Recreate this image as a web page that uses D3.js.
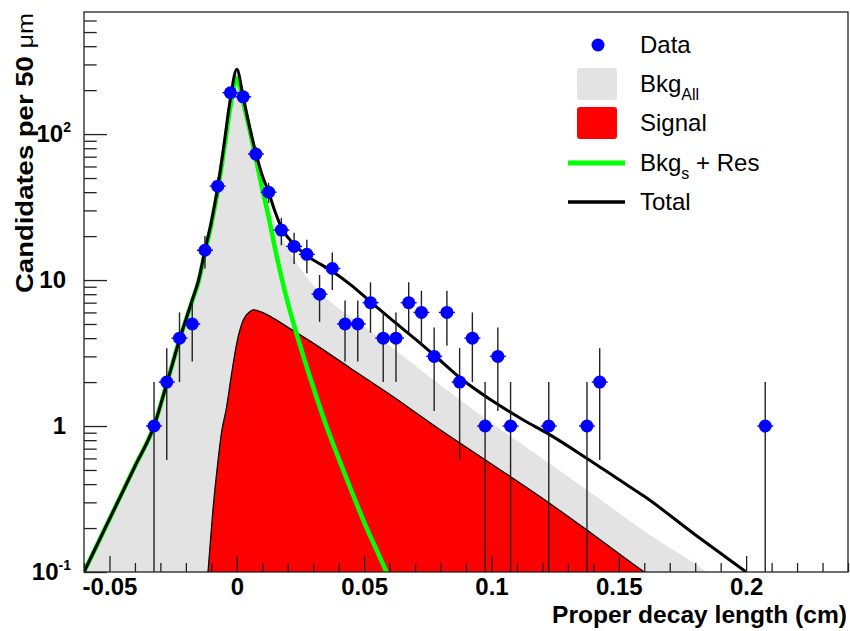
<!DOCTYPE html>
<html>
<head>
<meta charset="utf-8">
<script src="https://cdn.jsdelivr.net/npm/d3@7"></script>
<style>
  body { margin: 0; background: #fff; }
  svg { display: block; }
  text { font-family: "Liberation Sans", Arial, Helvetica, sans-serif; fill: #000; }
</style>
</head>
<body>
<svg id="chart" width="850" height="631"></svg>
<script>
// ---------------- DATA ----------------
const dataX = [-0.0325, -0.0275, -0.0225, -0.0175, -0.0125, -0.0075, -0.0025, 0.0025, 0.0075, 0.0125,
               0.0175, 0.0225, 0.0275, 0.0325, 0.0375, 0.0425, 0.0475, 0.0525, 0.0575, 0.0625,
               0.0675, 0.0725, 0.0775, 0.0825, 0.0875, 0.0925, 0.0975, 0.1025, 0.1075, 0.1225,
               0.1375, 0.1425, 0.2075];
const dataY = [1, 2, 4, 5, 16, 44, 192, 180, 73, 40,
               22, 17, 15, 8, 12, 5, 5, 7, 4, 4,
               7, 6, 3, 6, 2, 4, 1, 3, 1, 1,
               1, 2, 1];

// Fit curves: [decay length (cm), candidates]
const totalCurve = [[-0.06,0.1],[-0.05,0.23],[-0.04,0.53],[-0.0325,1.0],[-0.0275,1.95],[-0.0225,3.9],
  [-0.0175,7.3],[-0.015,10],[-0.0125,16],[-0.01,25],[-0.0075,43],[-0.005,85],[-0.0025,175],[0,278],
  [0.0025,180],[0.005,112],[0.0075,74],[0.01,52],[0.0125,40],[0.015,29.5],[0.0175,23],[0.0225,17.5],
  [0.0275,14.7],[0.0375,11.5],[0.045,9.2],[0.0525,7.1],[0.06,5.5],[0.07,3.95],[0.08,2.8],[0.0875,2.15],
  [0.1,1.5],[0.1125,1.1],[0.1225,0.88],[0.1375,0.6],[0.15,0.43],[0.16,0.33],[0.18,0.18],[0.2,0.1]];

const bkgSResCurve = [[-0.06,0.1],[-0.05,0.23],[-0.04,0.53],[-0.0325,1.0],[-0.0275,1.95],[-0.0225,3.9],
  [-0.0175,7.2],[-0.015,9.8],[-0.0125,15.5],[-0.01,24],[-0.0075,41],[-0.005,78],[-0.0025,155],[0,242],
  [0.0025,165],[0.005,108],[0.0075,68],[0.01,42],[0.0125,27],[0.015,16.5],[0.0175,10.5],[0.02,7.0],
  [0.025,3.5],[0.03,1.85],[0.035,1.02],[0.04,0.6],[0.045,0.36],[0.05,0.22],[0.055,0.14],[0.06,0.09]];

const bkgAllCurve = [[-0.06,0.1],[-0.05,0.23],[-0.04,0.53],[-0.0325,1.0],[-0.0275,1.95],[-0.0225,3.9],
  [-0.0175,7.3],[-0.015,10],[-0.0125,16],[-0.01,25],[-0.0075,43],[-0.005,85],[-0.0025,175],[0,278],
  [0.0025,180],[0.005,112],[0.0075,72],[0.01,48],[0.0125,34],[0.015,25],[0.02,16.5],[0.025,12],
  [0.03,9.2],[0.04,6.4],[0.05,4.8],[0.06,3.55],[0.08,1.9],[0.1,1.05],[0.12,0.6],[0.14,0.34],
  [0.16,0.19],[0.1846,0.1],[0.19,0.085]];

const signalCurve = [[-0.0113,0.1],[-0.0095,0.25],[-0.0075,0.55],[-0.006,0.9],[-0.004,1.35],[-0.002,2.3],
  [0,3.7],[0.0025,5.3],[0.005,6.05],[0.0065,6.25],[0.01,6.0],[0.015,5.4],[0.0196,4.8],[0.03,3.7],
  [0.0445,2.5],[0.06,1.65],[0.08,0.94],[0.1,0.55],[0.12,0.32],[0.14,0.18],[0.16,0.1],[0.165,0.087]];

const xMajorTicks = [-0.05, 0, 0.05, 0.1, 0.15, 0.2];
const xTickLabels = ["-0.05", "0", "0.05", "0.1", "0.15", "0.2"];
const yMajorTicks = [0.1, 1, 10, 100];
const yTickBase = ["10", "1", "10", "10"];
const yTickExp = ["-1", "", "", "2"];
const legendLabels = ["Data", "Bkg", "Signal", "Bkg", "Total"];
const legendSubs = ["", "All", "", "s", ""];
const legendSuffix = ["", "", "", " + Res", ""];
const xTitle = "Proper decay length (cm)";
const yTitle = "Candidates per 50 ";
const yTitleUnit = "\u03bcm";

// ---------------- LAYOUT ----------------
const L = 84, R = 848, T = 12, B = 572;
const svg = d3.select("#chart");
const x = d3.scaleLinear().domain([-0.06, 0.24]).range([L, R]);
const y = d3.scaleLog().domain([0.1, 686]).range([B, T]);

svg.append("defs").append("clipPath").attr("id", "plotclip")
  .append("rect").attr("x", L).attr("y", T).attr("width", R - L).attr("height", B - T);

const plot = svg.append("g").attr("clip-path", "url(#plotclip)");

const lineGen = d3.line().x(d => x(d[0])).y(d => y(d[1])).curve(d3.curveMonotoneX);
const areaGen = d3.area().x(d => x(d[0])).y0(B + 2).y1(d => y(d[1])).curve(d3.curveMonotoneX);

// Bkg_All (gray)
plot.append("path").datum(bkgAllCurve).attr("d", areaGen).attr("fill", "#e3e3e3");
// Signal (red with black outline)
plot.append("path").datum(signalCurve).attr("d", areaGen).attr("fill", "#ff0000");
plot.append("path").datum(signalCurve).attr("d", lineGen).attr("fill", "none")
  .attr("stroke", "#000").attr("stroke-width", 1.3);
// Bkg_s + Res (green)
plot.append("path").datum(bkgSResCurve).attr("d", lineGen).attr("fill", "none")
  .attr("stroke", "#00ff00").attr("stroke-width", 4.5).attr("stroke-linejoin", "round");
// Total (black)
plot.append("path").datum(totalCurve).attr("d", lineGen).attr("fill", "none")
  .attr("stroke", "#000").attr("stroke-width", 3).attr("stroke-linejoin", "round");

// Data points with Poisson error bars
const pts = dataX.map((v, i) => ({ x: v, n: dataY[i] }));
plot.append("g").selectAll("line").data(pts).join("line")
  .attr("x1", d => x(d.x)).attr("x2", d => x(d.x))
  .attr("y1", d => y(Math.max(d.n - Math.sqrt(d.n), 0.01)))
  .attr("y2", d => y(d.n + Math.sqrt(d.n)))
  .attr("stroke", "#222").attr("stroke-width", 1.4);
plot.append("g").selectAll("line").data(pts).join("line")
  .attr("x1", d => x(d.x) - 8).attr("x2", d => x(d.x) + 8)
  .attr("y1", d => y(d.n)).attr("y2", d => y(d.n))
  .attr("stroke", "#0000ff").attr("stroke-width", 1.4);
plot.append("g").selectAll("circle").data(pts).join("circle")
  .attr("cx", d => x(d.x)).attr("cy", d => y(d.n)).attr("r", 6.5)
  .attr("fill", "#0000ff");

// ---------------- AXES ----------------
const axisColor = "#222";
const xMinor = d3.range(-6, 25).map(i => i / 100).filter(v => Math.abs(Math.round(v * 100) % 5) !== 0);
const gxMinor = svg.append("g").attr("transform", `translate(0,${B})`)
  .call(d3.axisBottom(x).tickValues(xMinor).tickSize(-9).tickFormat(""));
gxMinor.select(".domain").remove();
const gx = svg.append("g").attr("transform", `translate(0,${B})`)
  .call(d3.axisBottom(x).tickValues(xMajorTicks).tickSize(-16).tickPadding(6)
    .tickFormat((d, i) => xTickLabels[i]));
gx.select(".domain").remove();
gx.selectAll("text").attr("font-size", 24).attr("font-weight", "bold")
  .attr("font-family", "'Liberation Sans', Arial, sans-serif").attr("fill", "#000");
[gx, gxMinor].forEach(g => g.selectAll("line").attr("stroke", axisColor).attr("stroke-width", 1.3));

const yMinor = [];
[-1, 0, 1, 2].forEach(e => { for (let m = 2; m <= 9; m++) { const v = m * Math.pow(10, e); if (v < 686) yMinor.push(v); } });
const gyMinor = svg.append("g").attr("transform", `translate(${L},0)`)
  .call(d3.axisLeft(y).tickValues(yMinor).tickSize(-12.7).tickFormat(""));
gyMinor.select(".domain").remove();
const gy = svg.append("g").attr("transform", `translate(${L},0)`)
  .call(d3.axisLeft(y).tickValues(yMajorTicks).tickSize(-23).tickFormat(""));
gy.select(".domain").remove();
[gy, gyMinor].forEach(g => g.selectAll("line").attr("stroke", axisColor).attr("stroke-width", 1.3));

// y tick labels (powers of ten)
const yl = svg.append("g");
yMajorTicks.forEach((v, i) => {
  const t = yl.append("text").attr("x", yTickExp[i] ? 71 : 66).attr("y", y(v)).attr("dy", "0.35em")
    .attr("text-anchor", "end").attr("font-size", 24).attr("font-weight", "bold");
  t.append("tspan").text(yTickBase[i]);
  if (yTickExp[i]) t.append("tspan").attr("dy", -10).attr("font-size", 14).text(yTickExp[i]);
});

// Frame
svg.append("rect").attr("x", L).attr("y", T).attr("width", R - L).attr("height", B - T)
  .attr("fill", "none").attr("stroke", axisColor).attr("stroke-width", 1.3);

// Titles
svg.append("text").attr("x", 847).attr("y", 623).attr("text-anchor", "end")
  .attr("font-size", 24).attr("font-weight", "bold")
  .attr("textLength", 295).attr("lengthAdjust", "spacingAndGlyphs").text(xTitle);
const yt = svg.append("text").attr("transform", "translate(33,13) rotate(-90)")
  .attr("text-anchor", "end").attr("font-size", 24).attr("font-weight", "bold")
  .attr("textLength", 280).attr("lengthAdjust", "spacingAndGlyphs");
yt.append("tspan").text(yTitle);
yt.append("tspan").attr("font-weight", "normal").attr("font-size", 22).text(yTitleUnit);

// ---------------- LEGEND ----------------
const leg = svg.append("g");
const rowY = [45, 84, 123, 163, 202];
legendLabels.forEach((lab, i) => {
  const cy = rowY[i];
  if (i === 0) {
    leg.append("circle").attr("cx", 598).attr("cy", cy).attr("r", 6.5).attr("fill", "#0000ff");
  } else if (i === 1 || i === 2) {
    leg.append("rect").attr("x", 577).attr("y", cy - 16).attr("width", 40).attr("height", 32).attr("rx", 3)
      .attr("fill", i === 1 ? "#e3e3e3" : "#ff0000");
  } else {
    leg.append("line").attr("x1", 568).attr("x2", 625).attr("y1", cy).attr("y2", cy)
      .attr("stroke", i === 3 ? "#00ff00" : "#000").attr("stroke-width", i === 3 ? 5 : 3.5);
  }
  const t = leg.append("text").attr("x", 640).attr("y", cy).attr("dy", "0.35em").attr("font-size", 24);
  t.append("tspan").text(lab);
  if (legendSubs[i]) t.append("tspan").attr("dy", 8).attr("font-size", 16).text(legendSubs[i]);
  if (legendSuffix[i]) t.append("tspan").attr("dy", -8).text(legendSuffix[i]);
});
</script>
</body>
</html>
